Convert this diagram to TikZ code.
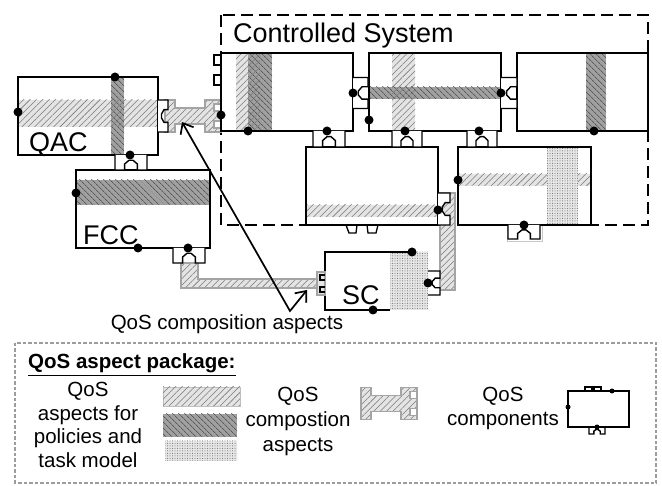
\documentclass[tikz,border=0pt]{standalone}
\usepackage{fontspec}
\setmainfont{Liberation Sans}
\usetikzlibrary{patterns.meta,arrows.meta}
\definecolor{lightfill}{HTML}{E4E4E4}
\definecolor{hatchgray}{HTML}{7A7A7A}
\definecolor{darkfill}{HTML}{A0A0A0}
\definecolor{dotbg}{HTML}{E6E6E6}
\definecolor{conngray}{HTML}{A4A4A4}
\definecolor{legendgray}{HTML}{9C9C9C}
\begin{document}
\begin{tikzpicture}[x=1pt,y=-1pt,
  boxline/.style={line width=1.6pt, draw=black},
  lh/.style={fill=lightfill, postaction={pattern={Lines[angle=45,distance=4.5pt,line width=0.55pt]}, pattern color=hatchgray}},
  lhonly/.style={pattern={Lines[angle=45,distance=4.5pt,line width=0.55pt]}, pattern color=hatchgray},
  dh/.style={fill=darkfill, postaction={pattern={Lines[angle=-45,distance=4pt,line width=0.6pt]}, pattern color=black!80}},
  dt/.style={fill=dotbg, postaction={pattern={Dots[distance=2.5pt,radius=0.5pt]}, pattern color=black!60}},
  bigdot/.style={circle, fill=black, inner sep=0pt, minimum size=9pt},
  smalldot/.style={circle, fill=black, inner sep=0pt, minimum size=5pt},
  lbl/.style={font=\fontsize{27}{27}\selectfont, inner sep=0pt, anchor=base west},
  txt/.style={font=\fontsize{20.5}{23}\selectfont, inner sep=0pt, anchor=base},
  portline/.style={line width=1.4pt, draw=black, fill=white, line join=miter},
  connline/.style={draw=conngray, line width=1.2pt},
  pics/port/.style n args={2}{code={
    \path[portline] (0,-#2) -- (#1,-#2) -- (#1,-0.4*#2) -- (0.6*#1,-0.4*#2) -- (0.35*#1,-0.12*#2)
      -- (0.35*#1,0.12*#2) -- (0.6*#1,0.4*#2) -- (#1,0.4*#2) -- (#1,#2) -- (0,#2);
  }},
  pics/comp/.style={code={
    \path[lh] (0,-16) -- (10,-16) -- (10,-8) -- (40,-8) -- (40,-16) -- (56,-16) -- (56,16)
      -- (40,16) -- (40,8) -- (10,8) -- (10,16) -- (0,16) -- cycle;
    \path[connline] (0,-16) -- (10,-16) -- (10,-8) -- (40,-8) -- (40,-16) -- (56,-16) -- (56,16)
      -- (40,16) -- (40,8) -- (10,8) -- (10,16) -- (0,16) -- cycle;
    \path[connline, fill=white] (49,-12) rectangle (56,-5);
    \path[connline, fill=white] (49,5) rectangle (56,12);
  }}
]
\useasboundingbox (0,0) rectangle (662,486);

% ---------- controlled system frame ----------
\draw[line width=2.6pt, dash pattern=on 12pt off 6pt] (221,15) rectangle (648,225);
\node[lbl] (cstitle) at (233,43) {Controlled System};

% ---------- grey composition connectors ----------
\pic at (165,116) {comp};
\path[lh] (181,263) -- (198,263) -- (198,279) -- (317,279) -- (317,288) -- (181,288) -- cycle;
\path[connline] (181,263) -- (198,263) -- (198,279) -- (317,279) -- (317,288) -- (181,288) -- cycle;
\path[lh] (440,193) -- (455,193) -- (455,290) -- (440,290) -- cycle;
\path[connline] (440,193) -- (455,193) -- (455,290) -- (440,290) -- cycle;
\draw[conngray!60, line width=1pt] (507,226) rectangle (542,242);

% ---------- QAC ----------
\coordinate (qacNW) at (18,77); \coordinate (qacSE) at (158,155);
\fill[white] (qacNW) rectangle (qacSE);
\path[lh] (18,100) rectangle (158,127);
\path[dh] (111,77) rectangle (124,155);
\path[lhonly] (111,100) rectangle (124,127);
\draw[boxline] (qacNW) rectangle (qacSE);
\node[lbl] (qac) at (29,152) {QAC};

% ---------- FCC ----------
\coordinate (fccNW) at (76,170); \coordinate (fccSE) at (210,248);
\fill[white] (fccNW) rectangle (fccSE);
\path[dh] (76,180) rectangle (210,205);
\draw[boxline] (fccNW) rectangle (fccSE);
\node[lbl] (fcc) at (83,245) {FCC};

% ---------- box A ----------
\coordinate (aNW) at (221,53); \coordinate (aSE) at (353,131);
\fill[white] (aNW) rectangle (aSE);
\path[lh] (236,53) rectangle (260,131);
\path[dh] (248,53) rectangle (272,131);
\path[lhonly] (248,53) rectangle (260,131);
\draw[boxline] (aNW) rectangle (aSE);

% ---------- box B ----------
\coordinate (bNW) at (369,53); \coordinate (bSE) at (501,131);
\fill[white] (bNW) rectangle (bSE);
\path[lh] (392,53) rectangle (415,131);
\path[dh] (369,87) rectangle (501,99);
\path[lhonly] (392,87) rectangle (415,99);
\draw[boxline] (bNW) rectangle (bSE);

% ---------- box C ----------
\coordinate (cNW) at (517,53); \coordinate (cSE) at (648,131);
\fill[white] (cNW) rectangle (cSE);
\path[dh] (586,53) rectangle (606,131);
\draw[boxline] (cNW) rectangle (cSE);

% ---------- box D ----------
\coordinate (dNW) at (306,147); \coordinate (dSE) at (438,225);
\fill[white] (dNW) rectangle (dSE);
\path[lh] (306,205) rectangle (438,217);
\draw[boxline] (dNW) rectangle (dSE);

% ---------- box E ----------
\coordinate (eNW) at (458,147); \coordinate (eSE) at (591,225);
\fill[white] (eNW) rectangle (eSE);
\path[lh] (458,174) rectangle (591,186);
\path[dt] (547,147) rectangle (578,225);
\draw[boxline] (eNW) rectangle (eSE);

% ---------- SC ----------
\fill[white] (325,252) rectangle (428,310);
\path[dt] (390,252) rectangle (428,310);
\draw[boxline] (413,252) -- (325,252) -- (325,310) -- (390,310);
\node[lbl] (sc) at (342,305) {SC};

% ---------- ports ----------
\pic at (158,116) {port={10}{16}};
\pic[rotate=-90] at (131,155) {port={15}{16}};
\pic at (353,93) {port={15}{15.5}};
\pic at (501,93) {port={16}{15.5}};
\pic[rotate=-90] at (329,131) {port={16}{16}};
\pic[rotate=-90] at (407,131) {port={16}{15}};
\pic[rotate=-90] at (482,131) {port={16}{15}};
\pic[rotate=-90] at (524,225) {port={14}{16}};
\pic[rotate=-90] at (189,248) {port={15}{16}};
\pic at (438,209) {port={12}{16}};
\pic at (428,283) {port={12}{12}};
% small half ports
\draw[line width=1.4pt] (221,55) -- (214,55) -- (214,65) -- (221,65);
\draw[line width=1.4pt] (221,75) -- (214,75) -- (214,85) -- (221,85);
\draw[line width=1.3pt] (346,225) -- (349,233) -- (356,233) -- (357,225);
\draw[line width=1.3pt] (367,225) -- (368,233) -- (376,233) -- (378,225);
\draw[conngray, line width=1.2pt, fill=lightfill] (317,272) rectangle (325,295);
\draw[line width=1.2pt] (325,275) -- (320,275) -- (320,280) -- (325,280);
\draw[line width=1.2pt] (325,287) -- (320,287) -- (320,292) -- (325,292);

% ---------- dots ----------
\foreach \p in {(115,77),(18,112),(130,155),(76,193),(138,248),(188,248),
  (221,115),(248,131),(327,131),(353,93),(369,120),(501,93),(405,131),(479,131),
  (594,131),(438,210),(458,180),(524,225),(412,252),(373,310),(428,283)}
  \node[bigdot] at \p {};

% ---------- composition arrows ----------
\coordinate (tipA) at (182,122);
\coordinate (apex) at (290,311);
\coordinate (tipB) at (307,290);
\draw[line width=1.7pt, {Straight Barb[length=9pt,width=15pt]}-{Straight Barb[length=9pt,width=15pt]}]
  (tipA) -- (apex) -- (tipB);
\node[txt] (compasp) at (227,330) {QoS composition aspects};

% ---------- legend ----------
\draw[legendgray, line width=1.6pt, dash pattern=on 3.5pt off 2pt] (15,343) rectangle (656,483);
\node[font=\fontsize{20.5}{23}\selectfont\bfseries, inner sep=0pt, anchor=base west] (lgtitle) at (28,369) {\underline{QoS aspect package:}};
\node[txt] (l1a) at (88,397) {QoS};
\node[txt] (l1b) at (88,420.5) {aspects for};
\node[txt] (l1c) at (88,444) {policies and};
\node[txt] (l1d) at (88,467.5) {task model};
\path[lh, draw=black!25, line width=0.6pt] (163,387) rectangle (240,406);
\path[dh] (163,414) rectangle (237,437);
\path[dt] (165,441) rectangle (237,461);
\node[txt] (l2a) at (298,402) {QoS};
\node[txt] (l2b) at (298,427) {compostion};
\node[txt] (l2c) at (298,452) {aspects};
\pic at (361,403.5) {comp};
\node[txt] (l3a) at (503,402) {QoS};
\node[txt] (l3b) at (503,426) {components};
% component icon
\draw[line width=1.3pt] (585,391) -- (585,387) -- (592,387) -- (592,391);
\draw[line width=1.3pt] (594,391) -- (594,387) -- (601,387) -- (601,391);
\pic[rotate=-90, scale=0.5] at (597,427) {port={14}{16}};
\draw[line width=1.5pt] (568,391) rectangle (629,427);
\node[smalldot] at (612,391) {};
\node[smalldot] at (568,407) {};
\node[smalldot] at (597,427) {};
\end{tikzpicture}
\end{document}
